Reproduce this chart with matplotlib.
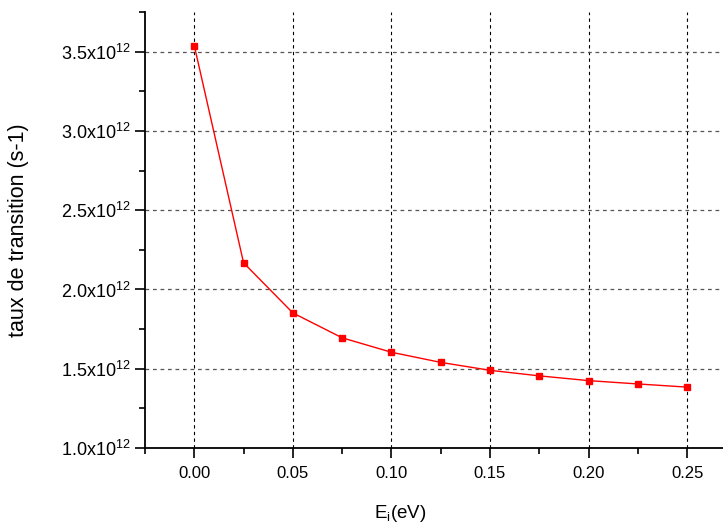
import numpy as np
import matplotlib
matplotlib.use("Agg")
import matplotlib.pyplot as plt
from matplotlib.ticker import MultipleLocator, FuncFormatter

plt.rcParams['font.family'] = ['Liberation Sans', 'DejaVu Sans']
plt.rcParams['mathtext.fontset'] = 'custom'
plt.rcParams['mathtext.rm'] = 'Liberation Sans'
plt.rcParams['mathtext.it'] = 'Liberation Sans:italic'

# data
energy = [0.000, 0.025, 0.050, 0.075, 0.100, 0.125, 0.150, 0.175, 0.200, 0.225, 0.250]
rate = [3.538e12, 2.168e12, 1.852e12, 1.695e12, 1.604e12, 1.540e12,
        1.490e12, 1.455e12, 1.425e12, 1.404e12, 1.384e12]

fig = plt.figure(figsize=(7.23, 5.28), dpi=100)
ax = fig.add_axes([145/723, 80/528, (736.4-145)/723, 436/528])

ax.plot(energy, rate, color='red', lw=1.0, marker='s', ms=4.5, mec='red', mfc='red')

ax.set_xlim(-0.025, 0.275)
ax.set_ylim(1.0e12, 3.75e12)

ax.xaxis.set_major_locator(MultipleLocator(0.05))
ax.xaxis.set_minor_locator(MultipleLocator(0.025))
ax.yaxis.set_major_locator(MultipleLocator(0.5e12))
ax.yaxis.set_minor_locator(MultipleLocator(0.25e12))
ax.xaxis.set_major_formatter(FuncFormatter(lambda v, p: '%.2f' % v))
ax.yaxis.set_major_formatter(FuncFormatter(lambda v, p: r'%.1fx10$^{12}$' % (v / 1e12)))

ax.tick_params(which='both', direction='out', width=1.2)
ax.tick_params(axis='x', labelsize=12, pad=6)
ax.tick_params(axis='y', labelsize=13, pad=3)
ax.tick_params(which='major', length=7)
ax.tick_params(which='minor', length=4)

for s in ['top', 'right']:
    ax.spines[s].set_visible(False)
for s in ['left', 'bottom']:
    ax.spines[s].set_linewidth(1.3)

ax.xaxis.grid(True, color='black', ls=(0, (3, 3)), lw=0.8)
ax.yaxis.grid(True, color='#555555', ls=(0, (3, 3)), lw=0.9)
ax.set_axisbelow(True)

ax.set_ylabel('taux de transition (s-1)', fontsize=15.5)
ax.set_xlabel(r'E$_\mathrm{i}$(eV)', fontsize=13.5)
ax.yaxis.set_label_coords(-0.196, 0.5)
ax.xaxis.set_label_coords((400-145)/(736.4-145), -0.125)

fig.savefig('out.png', dpi=100)
